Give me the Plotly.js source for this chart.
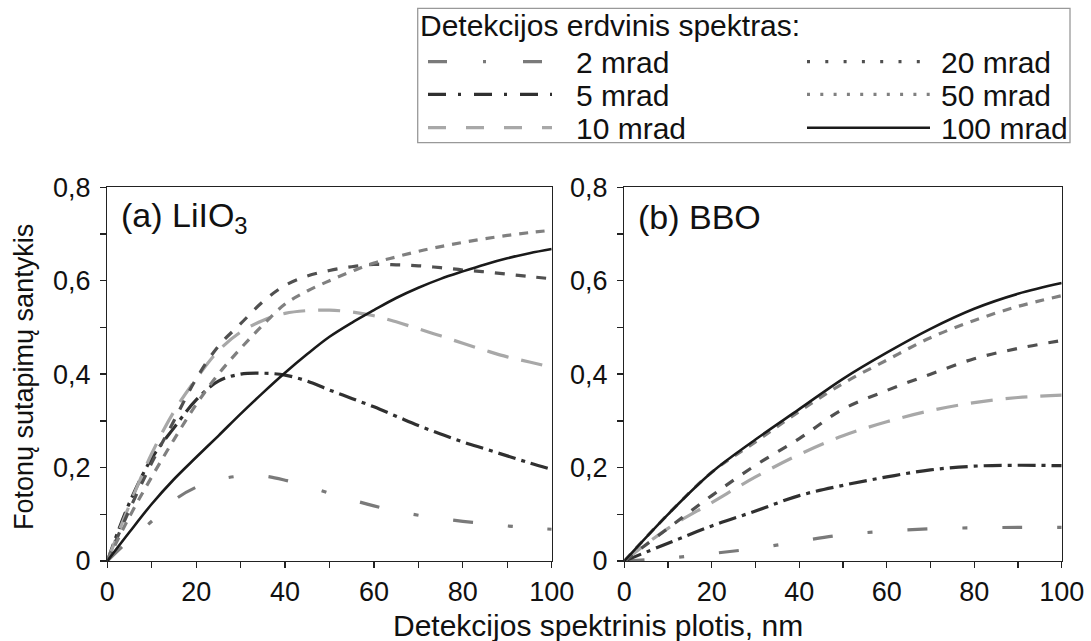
<!DOCTYPE html>
<html>
<head>
<meta charset="utf-8">
<script src="https://cdn.plot.ly/plotly-3.0.1.min.js"></script>
<style>html,body{margin:0;padding:0;background:#fff;}#chart{width:1091px;height:641px;}</style>
</head>
<body>
<div id="chart"></div>
<script>
// ---------- data ----------
const seriesNames = ['2 mrad', '5 mrad', '10 mrad', '20 mrad', '50 mrad', '100 mrad'];
const legendTitle = 'Detekcijos erdvinis spektras:';
const panelLabels = ['(a) LiIO<sub>3</sub>', '(b) BBO'];
const xTitle = 'Detekcijos spektrinis plotis, nm';
const yTitle = 'Fotonų sutapimų santykis';

// (a) LiIO3
const xA = [0, 5, 10, 15, 20, 25, 30, 35, 40, 45, 50, 55, 60, 65, 70, 75, 80, 85, 90, 95, 100];
const a2mrad   = [0, 0.045, 0.085, 0.13, 0.158, 0.174, 0.182, 0.182, 0.173, 0.16, 0.145, 0.131, 0.118, 0.107, 0.098, 0.091, 0.085, 0.08, 0.075, 0.071, 0.068];
const a5mrad   = [0, 0.125, 0.22, 0.285, 0.345, 0.385, 0.40, 0.402, 0.398, 0.385, 0.366, 0.348, 0.33, 0.31, 0.29, 0.272, 0.255, 0.24, 0.225, 0.21, 0.196];
const a10mrad  = [0, 0.12, 0.23, 0.32, 0.39, 0.45, 0.49, 0.515, 0.53, 0.536, 0.537, 0.533, 0.525, 0.512, 0.497, 0.482, 0.466, 0.451, 0.437, 0.426, 0.415];
const a20mrad  = [0, 0.11, 0.21, 0.30, 0.39, 0.46, 0.508, 0.555, 0.59, 0.61, 0.622, 0.63, 0.635, 0.634, 0.632, 0.628, 0.623, 0.619, 0.614, 0.609, 0.604];
const a50mrad  = [0, 0.095, 0.18, 0.26, 0.335, 0.40, 0.455, 0.505, 0.55, 0.578, 0.60, 0.62, 0.638, 0.651, 0.663, 0.673, 0.682, 0.69, 0.697, 0.703, 0.708];
const a100mrad = [0, 0.062, 0.122, 0.175, 0.222, 0.268, 0.315, 0.36, 0.403, 0.443, 0.48, 0.51, 0.537, 0.563, 0.585, 0.604, 0.62, 0.635, 0.648, 0.659, 0.668];

// (b) BBO
const xB = [0, 10, 20, 30, 40, 50, 60, 70, 80, 90, 100];
const b2mrad   = [0, 0.006, 0.016, 0.027, 0.042, 0.056, 0.064, 0.069, 0.071, 0.072, 0.072];
const b5mrad   = [0, 0.038, 0.075, 0.107, 0.14, 0.162, 0.18, 0.195, 0.203, 0.205, 0.204];
const b10mrad  = [0, 0.07, 0.125, 0.18, 0.228, 0.268, 0.298, 0.322, 0.339, 0.35, 0.355];
const b20mrad  = [0, 0.07, 0.14, 0.205, 0.262, 0.325, 0.365, 0.40, 0.433, 0.455, 0.472];
const b50mrad  = [0, 0.10, 0.19, 0.255, 0.32, 0.38, 0.43, 0.478, 0.515, 0.545, 0.568];
const b100mrad = [0, 0.10, 0.19, 0.26, 0.325, 0.39, 0.446, 0.497, 0.54, 0.572, 0.595];

// ---------- styles ----------
const W = 1091, H = 641;
const FONT = 'Liberation Sans, Arial, sans-serif';
const styles = [
  {color: '#7a7a7a', width: 3.2, dash: '20px,35px,5px,35px', legDash: '19px,36px,3px,37px'},
  {color: '#303030', width: 3.2, dash: '18px,6px,4px,6px',  legDash: '18px,12px,3px,13px'},
  {color: '#a8a8a8', width: 3.2, dash: '22px,13px',         legDash: '18px,20px'},
  {color: '#505050', width: 3.2, dash: '10px,11px',         legDash: '3px,15.3px'},
  {color: '#808080', width: 3.2, dash: '9px,8px',           legDash: '3px,10.3px'},
  {color: '#1a1a1a', width: 2.6, dash: 'solid',             legDash: 'solid'}
];
const seriesA = [a2mrad, a5mrad, a10mrad, a20mrad, a50mrad, a100mrad];
const seriesB = [b2mrad, b5mrad, b10mrad, b20mrad, b50mrad, b100mrad];

const traces = [];
seriesA.forEach((ys, i) => traces.push({
  x: xA, y: ys, xaxis: 'x', yaxis: 'y', type: 'scatter', mode: 'lines', name: seriesNames[i],
  showlegend: false, line: {color: styles[i].color, width: styles[i].width, dash: styles[i].dash, shape: 'spline', smoothing: 1}
}));
seriesB.forEach((ys, i) => traces.push({
  x: xB, y: ys, xaxis: 'x2', yaxis: 'y2', type: 'scatter', mode: 'lines', name: seriesNames[i],
  showlegend: false, line: {color: styles[i].color, width: styles[i].width, dash: styles[i].dash, shape: 'spline', smoothing: 1}
}));

const px = v => v / W;
const py = v => 1 - v / H;

function xax(dom, anchor) {
  return {
    domain: dom, anchor: anchor, range: [0, 100], tick0: 0, dtick: 20,
    ticks: 'outside', ticklen: 6, tickwidth: 1.3, tickcolor: '#222',
    showline: true, linecolor: '#222', linewidth: 1.3, mirror: true,
    showgrid: false, zeroline: false, ticklabelstandoff: 0,
    tickfont: {family: FONT, size: 27, color: '#111'},
    minor: {dtick: 10, tick0: 0, ticks: 'outside', ticklen: 6, tickwidth: 1.3, tickcolor: '#222', showgrid: false}
  };
}
function yax(dom, anchor) {
  return {
    domain: dom, anchor: anchor, range: [0, 0.8], tick0: 0, dtick: 0.2,
    ticks: 'outside', ticklen: 6, tickwidth: 1.3, tickcolor: '#222',
    showline: true, linecolor: '#222', linewidth: 1.3, mirror: true,
    showgrid: false, zeroline: false, ticklabelstandoff: 4,
    tickfont: {family: FONT, size: 27, color: '#111'},
    minor: {dtick: 0.1, tick0: 0, ticks: 'outside', ticklen: 6, tickwidth: 1.3, tickcolor: '#222', showgrid: false}
  };
}

const yDom = [py(561), py(187.3)];
const layout = {
  width: W, height: H,
  margin: {l: 0, r: 0, t: 0, b: 0},
  paper_bgcolor: '#fff', plot_bgcolor: '#fff',
  separators: ', ',
  showlegend: false,
  font: {family: FONT, color: '#111'},
  xaxis: xax([px(107.3), px(551.7)], 'y'),
  yaxis: yax(yDom, 'x'),
  xaxis2: xax([px(624.3), px(1061.7)], 'y2'),
  yaxis2: yax(yDom, 'x2'),
  shapes: [],
  annotations: []
};

// panel labels
layout.annotations.push({text: panelLabels[0], xref: 'paper', yref: 'paper', x: px(119), y: py(217), xanchor: 'left', yanchor: 'middle', showarrow: false, font: {family: FONT, size: 34, color: '#111'}});
layout.annotations.push({text: panelLabels[1], xref: 'paper', yref: 'paper', x: px(636), y: py(217), xanchor: 'left', yanchor: 'middle', showarrow: false, font: {family: FONT, size: 34, color: '#111'}});
// axis titles
layout.annotations.push({text: xTitle, xref: 'paper', yref: 'paper', x: px(598), y: py(625), xanchor: 'center', yanchor: 'middle', showarrow: false, font: {family: FONT, size: 30, color: '#111'}});
layout.annotations.push({text: yTitle, xref: 'paper', yref: 'paper', x: px(24), y: py(377), xanchor: 'center', yanchor: 'middle', textangle: -90, showarrow: false, font: {family: FONT, size: 27, color: '#111'}});

// legend box
layout.shapes.push({type: 'rect', xref: 'paper', yref: 'paper', x0: px(417.7), x1: px(1070), y0: py(142.7), y1: py(8.3), line: {color: '#999', width: 1.3}, fillcolor: 'rgba(0,0,0,0)'});
layout.annotations.push({text: legendTitle, xref: 'paper', yref: 'paper', x: px(418), y: py(26), xanchor: 'left', yanchor: 'middle', showarrow: false, font: {family: FONT, size: 30, color: '#111'}});
const rowY = [61.7, 94.3, 127.7];
const colSample = [[428, 552], [807, 930]];
const colText = [574, 939];
seriesNames.forEach((name, i) => {
  const c = Math.floor(i / 3), r = i % 3;
  layout.shapes.push({type: 'line', xref: 'paper', yref: 'paper', x0: px(colSample[c][0]), x1: px(colSample[c][1]), y0: py(rowY[r]), y1: py(rowY[r]),
    line: {color: styles[i].color, width: styles[i].width, dash: styles[i].legDash}});
  layout.annotations.push({text: name, xref: 'paper', yref: 'paper', x: px(colText[c]), y: py(rowY[r] + 1), xanchor: 'left', yanchor: 'middle', showarrow: false, font: {family: FONT, size: 30, color: '#111'}});
});

Plotly.newPlot('chart', traces, layout, {staticPlot: true, displayModeBar: false});
</script>
</body>
</html>
